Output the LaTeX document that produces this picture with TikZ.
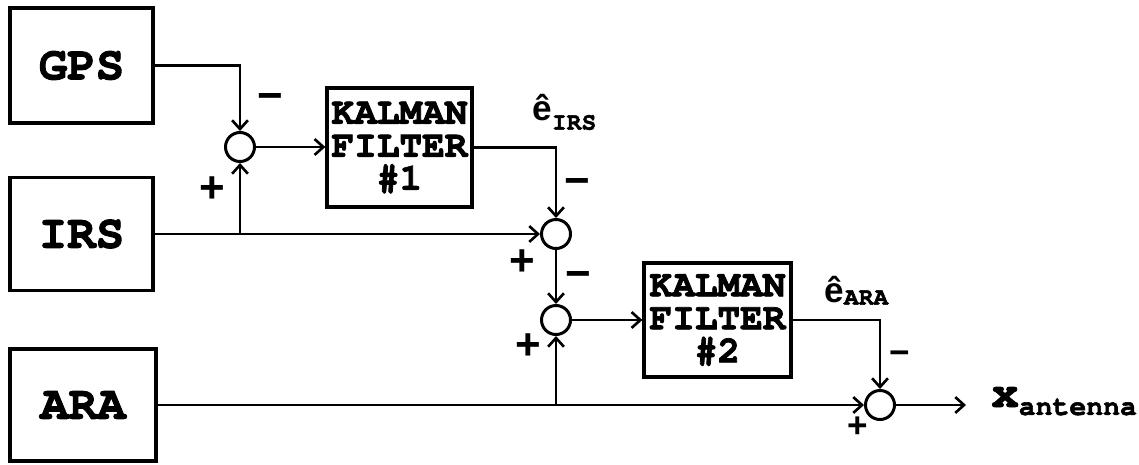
\documentclass[tikz,border=0pt]{standalone}
\usepackage{fontspec}
\setmainfont{TeX Gyre Cursor}[BoldFeatures={FakeBold=2}]
\newfontfamily\lsans{Liberation Sans}
\usetikzlibrary{arrows.meta}
\begin{document}
\begin{tikzpicture}[x=0.02cm,y=-0.02cm, line width=1.6pt,
  blk/.style={draw, line width=1.9pt, inner sep=0pt, font=\bfseries\fontsize{27}{27}\selectfont},
  kf/.style={draw, line width=1.9pt, inner sep=0pt, align=center,
    font=\bfseries\fontsize{21.5}{18.8}\selectfont, minimum width=2.9cm, minimum height=2.38cm},
  sum/.style={circle, draw, line width=1.7pt, minimum size=0.58cm, inner sep=0pt},
  sig/.style={font=\lsans\bfseries\fontsize{25}{25}\selectfont, inner sep=0pt},
  sigs/.style={font=\lsans\bfseries\fontsize{20}{20}\selectfont, inner sep=0pt},
  arr/.style={-{Straight Barb[length=5pt,width=9pt,line width=1.5pt]}},
  lbl/.style={anchor=base west, inner sep=0pt}
]
\useasboundingbox (0,0) rectangle (1139,464);

% blocks
\node[blk, minimum width=2.86cm, minimum height=2.30cm] (gps) at (81.5,65.5) {GPS};
\node[blk, minimum width=2.86cm, minimum height=2.26cm] (irs) at (81.5,234) {IRS};
\node[blk, minimum width=2.92cm, minimum height=2.24cm] (ara) at (83,405) {ARA};
\node[kf] (k1) at (399.5,147.5) {KALMAN\\FILTER\\\#1};
\node[kf, minimum width=2.94cm, minimum height=2.28cm] (k2) at (717.5,320) {KALMAN\\FILTER\\\#2};

% summing junctions
\node[sum] (s1) at (240,147) {};
\node[sum] (s2) at (556,234) {};
\node[sum] (s3) at (556,320) {};
\node[sum] (s4) at (880,405) {};

% junction / end coordinates
\coordinate (j1) at (s1 |- irs.east);
\coordinate (j2) at (s3 |- ara.east);
\coordinate (out) at (966,405);

% connectors
\draw[arr] (gps.east) -| (s1.north);
\draw[arr] (irs.east) -- (s2.west);
\draw[arr] (j1) -- (s1.south);
\draw[arr] (s1.east) -- (s1.east -| k1.west);
\draw[arr] (k1.east) -| (s2.north);
\draw[arr] (s2.south) -- (s3.north);
\draw[arr] (s3.east) -- (s3.east -| k2.west);
\draw[arr] (k2.east) -| (s4.north);
\draw[arr] (ara.east) -- (s4.west);
\draw[arr] (j2) -- (s3.south);
\draw[arr] (s4.east) -- (out);

% signs
\node[sig] (m1) at (270,102) {−};
\node[sig] (p1) at (212,190) {+};
\node[sig] (m2) at (577,187) {−};
\node[sig] (p2) at (522,263) {+};
\node[sig] (m3) at (578,280) {−};
\node[sig] (p3) at (528,347) {+};
\node[sigs] (m4) at (900,358) {−};
\node[sigs] (p4) at (858,427) {+};

% labels
\node[lbl] (eirs) at (531,120) {{\lsans\bfseries\fontsize{20}{20}\selectfont ê}\raisebox{-5.5pt}{\bfseries\fontsize{14}{14}\selectfont IRS}};
\node[lbl] (eara) at (823,302) {{\lsans\bfseries\fontsize{20}{20}\selectfont ê}\raisebox{-1.5pt}{\bfseries\fontsize{14}{14}\selectfont ARA}};
\node[lbl] (xant) at (990,407) {{\bfseries\fontsize{26}{26}\selectfont x}\raisebox{-4.5pt}{\bfseries\fontsize{16}{16}\selectfont antenna}};
\end{tikzpicture}
\end{document}
